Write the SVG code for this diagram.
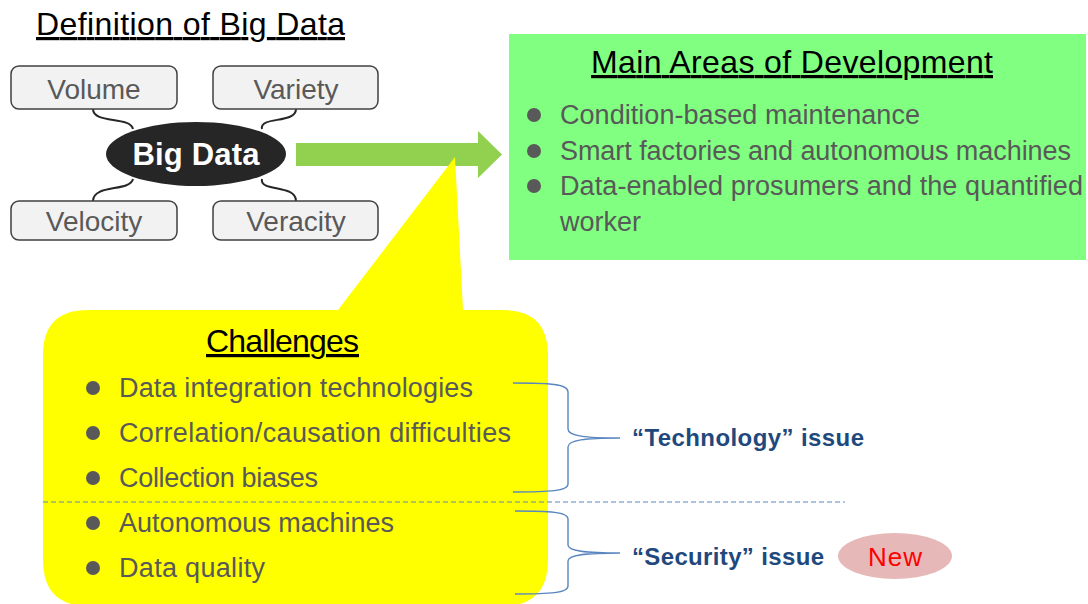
<svg xmlns="http://www.w3.org/2000/svg" width="1088" height="604" viewBox="0 0 1088 604">
<style>
text{font-family:"Liberation Sans",Arial,sans-serif}
.title{font-size:32px;fill:#000;text-decoration:underline}
.lbl{font-size:28px;fill:#595959;text-anchor:middle}
.body{font-size:27px;fill:#595959}
.issue{font-size:24px;font-weight:bold;fill:#1f497d}
.box{fill:#f2f2f2;stroke:#404040;stroke-width:1.5}
.bul{fill:#595959}
.con{fill:none;stroke:#262626;stroke-width:2}
.brace{fill:none;stroke:#5a87c0;stroke-width:1.4}
</style>
<rect width="1088" height="604" fill="#fff"/>

<g id="definition-title">
<text class="title" x="36" y="35" textLength="309">Definition of Big Data</text>
</g>

<g id="connectors">
<path class="con" d="M93,109 C93,124 130,116 133,129"/>
<path class="con" d="M296,109 C296,124 259,116 262,129"/>
<path class="con" d="M133,179 C130,192 93,184 93,201"/>
<path class="con" d="M262,179 C259,192 296,184 296,201"/>
</g>

<g id="volume">
<rect class="box" x="11" y="66" width="166" height="43" rx="8"/>
<text class="lbl" x="94" y="99">Volume</text>
</g>
<g id="variety">
<rect class="box" x="213" y="66" width="165" height="43" rx="8"/>
<text class="lbl" x="296" y="99">Variety</text>
</g>
<g id="velocity">
<rect class="box" x="11" y="201" width="166" height="39" rx="8"/>
<text class="lbl" x="94" y="231">Velocity</text>
</g>
<g id="veracity">
<rect class="box" x="213" y="201" width="165" height="39" rx="8"/>
<text class="lbl" x="296" y="231">Veracity</text>
</g>

<g id="big-data">
<ellipse cx="196" cy="154" rx="90" ry="32" fill="#262626"/>
<text x="196" y="165" text-anchor="middle" font-size="31" font-weight="bold" fill="#fff" textLength="127">Big Data</text>
</g>

<g id="arrow">
<path d="M296,143 L478,143 L478,131 L502,154.5 L478,178 L478,166 L296,166 Z" fill="#92d050"/>
</g>

<g id="main-areas">
<rect x="509" y="34" width="577" height="226" fill="#80ff80"/>
<text class="title" x="591" y="73" textLength="402">Main Areas of Development</text>
<circle class="bul" cx="534" cy="115" r="7"/>
<circle class="bul" cx="534" cy="151" r="7"/>
<circle class="bul" cx="534" cy="186" r="7"/>
<text class="body" x="560" y="124" textLength="360">Condition-based maintenance</text>
<text class="body" x="560" y="160" textLength="511">Smart factories and autonomous machines</text>
<text class="body" x="560" y="195" textLength="523">Data-enabled prosumers and the quantified</text>
<text class="body" x="560" y="231">worker</text>
</g>

<g id="challenges">
<path d="M88,310 L338,310 L455,157 L463,310 L503,310 Q548,310 548,355 L548,560 Q548,606 503,606 L88,606 Q43,606 43,560 L43,355 Q43,310 88,310 Z" fill="#ffff00"/>
<text class="title" x="206" y="352" font-size="31" textLength="153">Challenges</text>
<circle class="bul" cx="93" cy="388" r="7"/>
<circle class="bul" cx="93" cy="433" r="7"/>
<circle class="bul" cx="93" cy="478" r="7"/>
<circle class="bul" cx="93" cy="523" r="7"/>
<circle class="bul" cx="93" cy="568" r="7"/>
<text class="body" x="119" y="397" textLength="354">Data integration technologies</text>
<text class="body" x="119" y="442" textLength="392">Correlation/causation difficulties</text>
<text class="body" x="119" y="487" textLength="199">Collection biases</text>
<text class="body" x="119" y="532" textLength="275">Autonomous machines</text>
<text class="body" x="119" y="577" textLength="146">Data quality</text>
</g>

<g id="separator">
<line x1="43" y1="502" x2="845" y2="502" stroke="#5a87c0" stroke-width="1.2" stroke-dasharray="5 3"/>
</g>

<g id="technology-issue">
<path class="brace" d="M513,383 C550,383 568,384 568,392 L568,429 C568,436 585,438 620,438 C585,438 568,440 568,447 L568,484 C568,491 550,492 513,492"/>
<text class="issue" x="632" y="446" textLength="232">“Technology” issue</text>
</g>

<g id="security-issue">
<path class="brace" d="M515,511 C550,511 568,512 568,519 L568,545 C568,551 585,553 620,553 C585,553 568,555 568,561 L568,586 C568,593 550,594 515,594"/>
<text class="issue" x="632" y="565" textLength="192">“Security” issue</text>
</g>

<g id="new-badge">
<ellipse cx="895" cy="556" rx="57" ry="23" fill="#e6b9b8"/>
<text x="895" y="566" text-anchor="middle" font-size="26" fill="#ff0000" textLength="54">New</text>
</g>
</svg>
